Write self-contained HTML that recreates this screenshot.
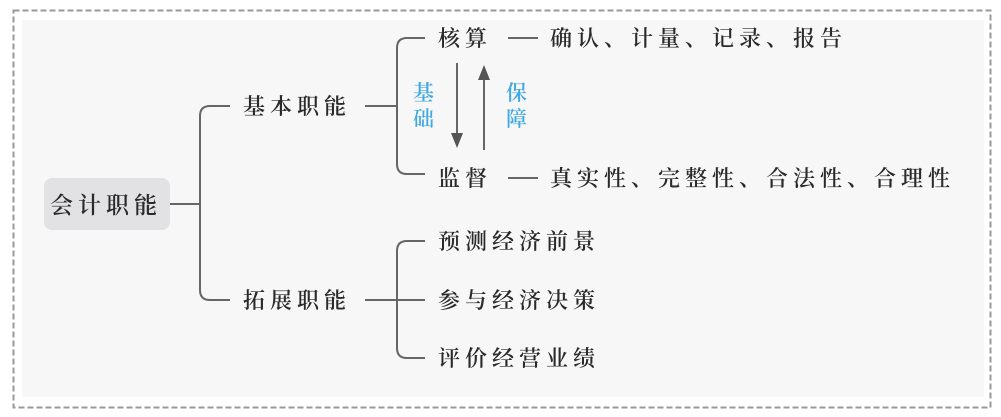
<!DOCTYPE html>
<html><head><meta charset="utf-8"><style>
html,body{margin:0;padding:0;background:#fff;width:1001px;height:417px;overflow:hidden}
svg{display:block}
text{font-family:"Noto Serif CJK SC","Liberation Serif",serif;font-size:22px;fill:#2a2a2a;letter-spacing:5px;font-weight:600}
</style></head><body>
<svg width="1001" height="417" viewBox="0 0 1001 417">
<rect x="13.5" y="10.5" width="977" height="397" fill="#fff" stroke="#999" stroke-width="2" stroke-dasharray="6,3"/>
<rect x="22" y="20" width="962" height="377" fill="#f7f7f8"/>
<rect x="44" y="178" width="126" height="52" rx="8" fill="#e2e2e4"/>
<text x="50" y="213" style="font-size:23px">会计职能</text>
<g fill="none" stroke="#666" stroke-width="2">
<path d="M170 204 H200"/>
<path d="M230 106 H210 Q200 106 200 116 V290 Q200 300 210 300 H230"/>
<path d="M365 106 H397"/>
<path d="M425 38 H407 Q397 38 397 48 V164 Q397 174 407 174 H425"/>
<path d="M365 300 H397"/>
<path d="M425 241 H407 Q397 241 397 251 V348 Q397 358 407 358 H425"/>
<path d="M397 300 H425"/>
<path d="M457 63 V135"/>
<path d="M484 80 V150"/>
<path d="M508 38 H538"/>
<path d="M508 178 H538"/>
</g>
<path d="M451 133 L463 133 L457 148 Z" fill="#555"/>
<path d="M478 80 L490 80 L484 65 Z" fill="#555"/>
<text x="243" y="114">基本职能</text>
<text x="243" y="308">拓展职能</text>
<text x="438" y="46">核算</text>
<text x="438" y="186">监督</text>
<text x="550" y="46">确认、计量、记录、报告</text>
<text x="550" y="186">真实性、完整性、合法性、合理性</text>
<text x="438" y="249">预测经济前景</text>
<text x="438" y="308">参与经济决策</text>
<text x="438" y="366">评价经营业绩</text>
<text x="413" y="100" style="fill:#3fa9e0;font-size:21px">基</text>
<text x="413" y="126" style="fill:#3fa9e0;font-size:21px">础</text>
<text x="506" y="100" style="fill:#3fa9e0;font-size:21px">保</text>
<text x="506" y="126" style="fill:#3fa9e0;font-size:21px">障</text>
</svg>
</body></html>
